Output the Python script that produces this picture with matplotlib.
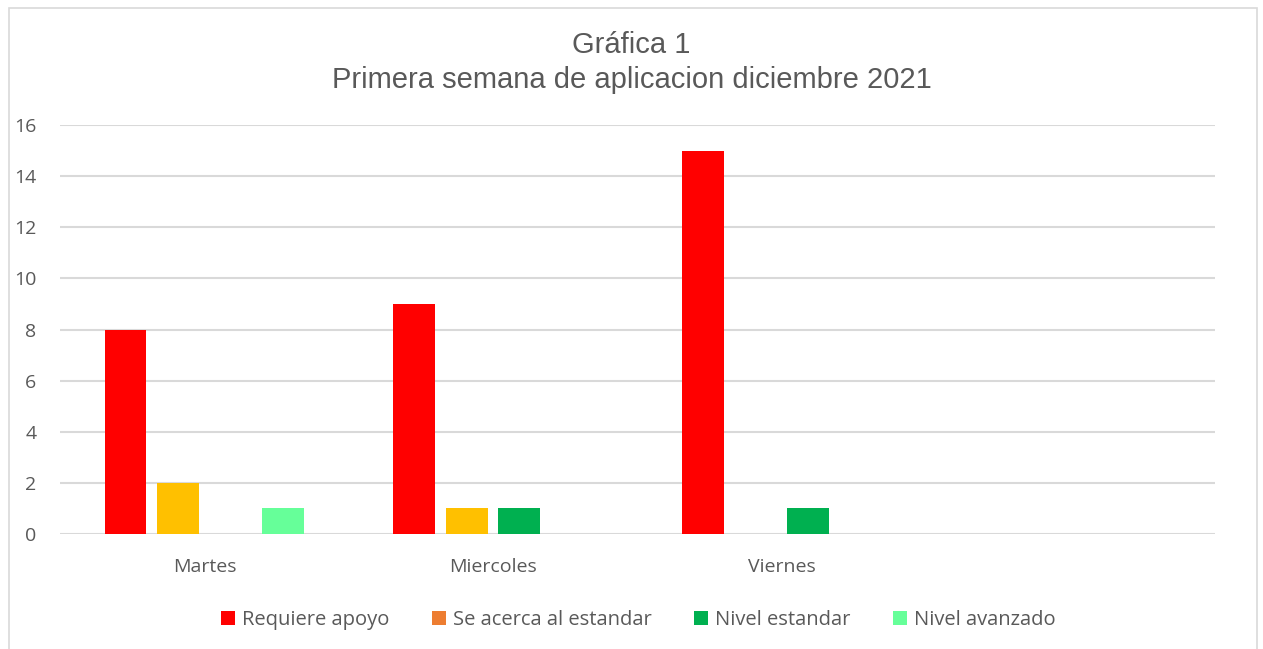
import numpy as np
import matplotlib.pyplot as plt
from matplotlib.patches import Rectangle, Patch

# data
days = ['Martes', 'Miercoles', 'Viernes', '']
series = ['Requiere apoyo', 'Se acerca al estandar', 'Nivel estandar', 'Nivel avanzado']
requiere_apoyo = [8, 9, 15, 0]
se_acerca = [2, 1, 0, 0]
nivel_estandar = [0, 1, 1, 0]
nivel_avanzado = [1, 0, 0, 0]

bar_colors = ['#FF0000', '#FFC000', '#00B050', '#66FF99']
legend_colors = ['#FF0000', '#ED7D31', '#00B050', '#66FF99']

plt.rcParams['font.family'] = ['Open Sans', 'DejaVu Sans']

fig = plt.figure(figsize=(12.63, 6.49), dpi=100)
ax = fig.add_axes([60 / 1263, 1 - 534 / 649, 1155 / 1263, 409 / 649])

# outer frame of the chart area
fig.patches.append(Rectangle((9 / 1263, -0.05), 1248 / 1263, 1.05 - 8 / 649,
                             transform=fig.transFigure, fill=False,
                             edgecolor='#D9D9D9', linewidth=1.2))

x = np.arange(len(days))
width = 0.145
step = 0.182
values = [requiere_apoyo, se_acerca, nivel_estandar, nivel_avanzado]
for i, vals in enumerate(values):
    ax.bar(x + (i - 1.5) * step, vals, width, color=bar_colors[i], zorder=3)

ax.set_xlim(-0.5, 3.5)
ax.set_ylim(0, 16)
ax.set_yticks(range(0, 17, 2))
ax.set_xticks(x)
ax.set_xticklabels(days)
ax.yaxis.grid(True, color='#D9D9D9', linewidth=1.5, zorder=0)
ax.tick_params(length=0, labelsize=14, colors='#595959')
ax.tick_params(axis='x', pad=17)
ax.tick_params(axis='y', pad=17)
for s in ax.spines.values():
    s.set_visible(False)

fig.text(0.5, 1 - 45 / 649, 'Gráfica 1', ha='center', va='center',
         fontsize=21, color='#595959', family='Liberation Sans')
fig.text(0.5, 1 - 80 / 649, 'Primera semana de aplicacion diciembre 2021',
         ha='center', va='center', fontsize=21, color='#595959',
         family='Liberation Sans')

handles = [Patch(facecolor=c) for c in legend_colors]
fig.legend(handles, series, loc='center', bbox_to_anchor=(638 / 1263, 1 - 620 / 649),
           ncol=4, frameon=False, fontsize=14.5, labelcolor='#595959',
           handlelength=0.7, handleheight=0.7, handletextpad=0.35, columnspacing=2.1)

fig.savefig('out.png', dpi=100)
